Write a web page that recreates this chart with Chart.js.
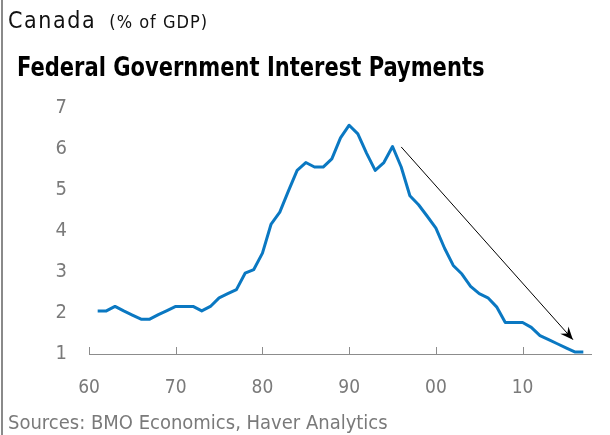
<!DOCTYPE html>
<html>
<head>
<meta charset="utf-8">
<script src="https://cdn.jsdelivr.net/npm/chart.js@4"></script>
<style>
  html, body { margin: 0; padding: 0; background: #fff; }
  #wrap { position: relative; width: 610px; height: 435px; overflow: hidden; }
  #wrap canvas { position: absolute; left: 0; top: 0; }
  .border { position: absolute; left: 1px; top: 0; width: 2px; height: 435px; background: #8a8a8a; }
  .txt { position: absolute; white-space: nowrap; line-height: normal; font-family: "DejaVu Sans Condensed", "DejaVu Sans", sans-serif; }
  #country { left: 8px; top: 7px; font-size: 23px; color: #111; letter-spacing: 1.6px; }
  #country span { font-size: 18px; margin-left: 13px; letter-spacing: 1px; }
  #title { left: 17px; top: 52px; font-size: 26px; font-weight: bold; color: #000; transform: scaleX(0.9); transform-origin: left top; }
  #source { left: 8px; top: 410px; font-size: 20px; color: #7a7a7a; }
</style>
</head>
<body>
<div id="wrap">
  <canvas id="chart" width="610" height="435"></canvas>
  <div class="border"></div>
  <div class="txt" id="country">Canada<span>(% of GDP)</span></div>
  <div class="txt" id="title">Federal Government Interest Payments</div>
  <div class="txt" id="source">Sources: BMO Economics, Haver Analytics</div>
</div>
<script>
const years = [1961, 1962, 1963, 1964, 1965, 1966, 1967, 1968, 1969, 1970,
  1971, 1972, 1973, 1974, 1975, 1976, 1977, 1978, 1979, 1980,
  1981, 1982, 1983, 1984, 1985, 1986, 1987, 1988, 1989, 1990,
  1991, 1992, 1993, 1994, 1995, 1996, 1997, 1998, 1999, 2000,
  2001, 2002, 2003, 2004, 2005, 2006, 2007, 2008, 2009, 2010,
  2011, 2012, 2013, 2014, 2015, 2016, 2017];
const interest = [2.05, 2.05, 2.16, 2.05, 1.95, 1.85, 1.85, 1.96, 2.06, 2.16,
  2.16, 2.16, 2.05, 2.16, 2.37, 2.47, 2.57, 2.97, 3.06, 3.46,
  4.17, 4.46, 4.98, 5.48, 5.67, 5.56, 5.56, 5.76, 6.27, 6.58,
  6.37, 5.90, 5.48, 5.67, 6.06, 5.56, 4.86, 4.64, 4.36, 4.07,
  3.58, 3.16, 2.95, 2.65, 2.47, 2.37, 2.15, 1.77, 1.77, 1.77,
  1.65, 1.45, 1.35, 1.25, 1.15, 1.05, 1.05];
const xTicks = [1960, 1970, 1980, 1990, 2000, 2010];
const yTicks = [1, 2, 3, 4, 5, 6, 7];
// trend arrow, in data units
const arrowX = [1996.0, 2015.8];
const arrowY = [6.05, 1.35];

const axisGray = '#8c8c8c';
const labelGray = '#7a7a7a';
const tickFont = 'DejaVu Sans Condensed, DejaVu Sans, sans-serif';

// tick marks on the x axis point up into the plot
const upTicks = {
  id: 'upTicks',
  afterDraw(chart) {
    const { ctx, scales: { x, y } } = chart;
    const base = Math.round(y.getPixelForValue(1));
    ctx.save();
    ctx.strokeStyle = axisGray;
    ctx.lineWidth = 1;
    ctx.beginPath();
    ctx.moveTo(x.left, base + 0.5);
    ctx.lineTo(x.right, base + 0.5);
    xTicks.forEach(v => {
      const px = Math.round(x.getPixelForValue(v)) + 0.5;
      ctx.moveTo(px, base);
      ctx.lineTo(px, base - 7);
    });
    ctx.stroke();
    ctx.restore();
  }
};

// arrowhead at the end of the trend line
const arrowHead = {
  id: 'arrowHead',
  afterDatasetsDraw(chart) {
    const { ctx, scales: { x, y } } = chart;
    const x0 = x.getPixelForValue(arrowX[0]), y0 = y.getPixelForValue(arrowY[0]);
    const x1 = x.getPixelForValue(arrowX[1]), y1 = y.getPixelForValue(arrowY[1]);
    const a = Math.atan2(y1 - y0, x1 - x0);
    const len = 14, spread = 0.4;
    ctx.save();
    ctx.fillStyle = '#000';
    ctx.beginPath();
    ctx.moveTo(x1, y1);
    ctx.lineTo(x1 - len * Math.cos(a - spread), y1 - len * Math.sin(a - spread));
    ctx.lineTo(x1 - len * 0.6 * Math.cos(a), y1 - len * 0.6 * Math.sin(a));
    ctx.lineTo(x1 - len * Math.cos(a + spread), y1 - len * Math.sin(a + spread));
    ctx.closePath();
    ctx.fill();
    ctx.restore();
  }
};

new Chart(document.getElementById('chart'), {
  type: 'line',
  data: {
    datasets: [{
      data: years.map((yr, i) => ({ x: yr, y: interest[i] })),
      borderColor: '#0a78c2',
      borderWidth: 3,
      pointRadius: 0,
      tension: 0,
      borderJoinStyle: 'round',
      clip: false,
    }, {
      data: arrowX.map((v, i) => ({ x: v, y: arrowY[i] })),
      borderColor: '#000',
      borderWidth: 1,
      pointRadius: 0,
      clip: false,
    }],
  },
  options: {
    responsive: false,
    animation: false,
    events: [],
    layout: { padding: { left: 0, right: 18, top: 108, bottom: 21 } },
    plugins: { legend: { display: false }, tooltip: { enabled: false }, title: { display: false } },
    scales: {
      x: {
        type: 'linear',
        min: 1960,
        max: 2018,
        afterFit(scale) { scale.height = 60; },
        afterBuildTicks(scale) { scale.ticks = xTicks.map(v => ({ value: v })); },
        grid: { display: false },
        border: { display: false },
        ticks: {
          padding: 15,
          maxRotation: 0,
          autoSkip: false,
          color: labelGray,
          font: { family: tickFont, size: 19 },
          callback: v => String(v % 100).padStart(2, '0'),
        },
      },
      y: {
        min: 1,
        max: 7,
        afterFit(scale) { scale.width = 89; },
        afterBuildTicks(scale) { scale.ticks = yTicks.map(v => ({ value: v })); },
        grid: { display: false },
        border: { display: false },
        ticks: {
          padding: 14,
          color: labelGray,
          font: { family: tickFont, size: 20 },
        },
      },
    },
  },
  plugins: [upTicks, arrowHead],
});
</script>
</body>
</html>
